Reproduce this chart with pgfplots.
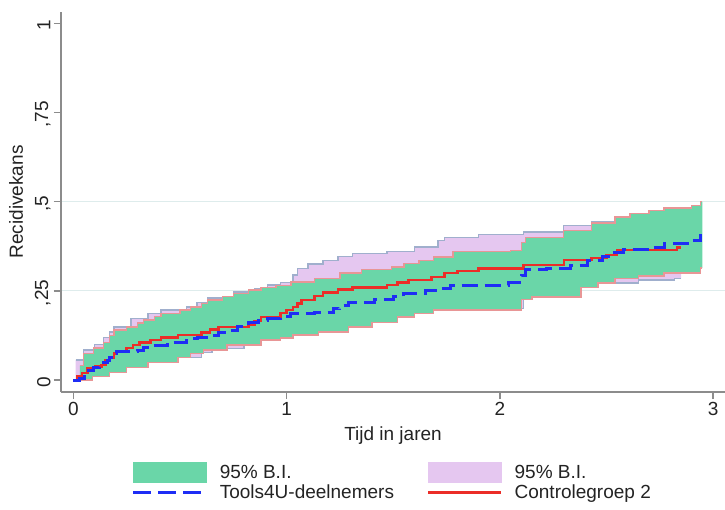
\documentclass[border=0pt]{standalone}
\usepackage{fontspec}
\setmainfont{Liberation Sans}
\usepackage{pgfplots}
\usepackage{pgfplotstable}
\pgfplotsset{compat=1.18}
\usepgfplotslibrary{fillbetween}

\definecolor{greenF}{RGB}{106,214,168}
\definecolor{purpF}{RGB}{229,199,240}
\definecolor{greenE}{RGB}{232,150,150}
\definecolor{purpE}{RGB}{160,175,205}
\definecolor{blueL}{RGB}{30,45,245}
\definecolor{redL}{RGB}{235,45,40}
\definecolor{axisG}{RGB}{140,140,140}
\definecolor{gridC}{RGB}{222,236,236}
\definecolor{txt}{RGB}{35,35,35}
\newcommand{\F}{\fontsize{19}{22}\selectfont}

% Controlegroep 2 (red)
\pgfplotstableread{
x y
0 0
0.02 0.01
0.04 0.02
0.065 0.034
0.10 0.038
0.13 0.042
0.15 0.055
0.17 0.062
0.19 0.075
0.20 0.08
0.25 0.09
0.28 0.098
0.31 0.106
0.36 0.112
0.41 0.12
0.49 0.126
0.60 0.134
0.64 0.142
0.68 0.149
0.82 0.154
0.85 0.165
0.88 0.177
0.97 0.188
1.00 0.196
1.03 0.205
1.05 0.215
1.07 0.224
1.13 0.235
1.17 0.246
1.24 0.254
1.31 0.26
1.47 0.266
1.52 0.273
1.57 0.28
1.68 0.289
1.74 0.30
1.80 0.306
1.90 0.313
2.11 0.322
2.30 0.336
2.43 0.342
2.50 0.35
2.55 0.364
2.83 0.372
2.85 0.372
}\tR

% Tools4U-deelnemers (blue)
\pgfplotstableread{
x y
0 0
0.03 0.005
0.05 0.02
0.056 0.028
0.094 0.034
0.12 0.04
0.14 0.048
0.16 0.055
0.17 0.062
0.19 0.075
0.20 0.08
0.30 0.084
0.33 0.09
0.36 0.098
0.44 0.106
0.53 0.117
0.58 0.12
0.63 0.126
0.68 0.133
0.72 0.14
0.77 0.15
0.82 0.16
0.87 0.166
0.91 0.173
0.97 0.177
1.02 0.187
1.13 0.19
1.22 0.20
1.25 0.21
1.29 0.216
1.41 0.226
1.50 0.233
1.55 0.243
1.65 0.25
1.71 0.257
1.77 0.266
2.04 0.274
2.10 0.294
2.12 0.31
2.22 0.314
2.33 0.322
2.41 0.336
2.48 0.345
2.52 0.358
2.58 0.367
2.72 0.372
2.77 0.383
2.90 0.392
2.94 0.406
2.95 0.406
}\tB

% green band (Tools4U CI) upper
\pgfplotstableread{
x y
0.03 0.04
0.047 0.075
0.094 0.09
0.14 0.106
0.17 0.125
0.19 0.14
0.25 0.149
0.30 0.16
0.33 0.168
0.38 0.178
0.41 0.187
0.50 0.196
0.55 0.205
0.60 0.215
0.63 0.224
0.70 0.235
0.75 0.243
0.82 0.252
0.88 0.26
0.95 0.265
1.02 0.275
1.13 0.285
1.25 0.30
1.35 0.31
1.49 0.317
1.55 0.327
1.62 0.335
1.69 0.345
1.78 0.36
2.05 0.364
2.10 0.385
2.12 0.40
2.30 0.42
2.43 0.44
2.54 0.457
2.61 0.467
2.70 0.475
2.77 0.482
2.90 0.49
2.94 0.50
2.95 0.50
}\tGU

% green band lower
\pgfplotstableread{
x y
0.03 0
0.09 0.01
0.17 0.022
0.25 0.036
0.35 0.05
0.49 0.064
0.55 0.074
0.61 0.084
0.72 0.098
0.88 0.112
0.97 0.118
1.03 0.126
1.15 0.135
1.29 0.149
1.40 0.162
1.52 0.177
1.60 0.186
1.69 0.196
2.10 0.225
2.15 0.233
2.38 0.26
2.46 0.272
2.54 0.285
2.65 0.292
2.77 0.30
2.94 0.314
2.95 0.314
}\tGL

% purple band (Controlegroep CI) upper
\pgfplotstableread{
x y
0.01 0.056
0.047 0.084
0.10 0.10
0.14 0.12
0.17 0.135
0.19 0.149
0.27 0.173
0.35 0.187
0.41 0.196
0.53 0.205
0.58 0.218
0.63 0.23
0.75 0.247
0.85 0.257
0.91 0.266
0.97 0.274
1.03 0.294
1.05 0.313
1.10 0.325
1.17 0.336
1.24 0.347
1.31 0.355
1.47 0.36
1.60 0.373
1.71 0.392
1.74 0.40
1.90 0.408
2.11 0.415
2.30 0.434
2.43 0.445
2.55 0.455
2.83 0.47
2.85 0.47
}\tPU

% purple band lower
\pgfplotstableread{
x y
0.01 0
0.09 0.01
0.17 0.024
0.25 0.038
0.35 0.052
0.49 0.064
0.60 0.078
0.65 0.088
0.80 0.10
0.88 0.112
0.97 0.122
1.03 0.13
1.15 0.14
1.29 0.152
1.40 0.165
1.52 0.18
1.60 0.19
1.69 0.20
2.11 0.235
2.38 0.262
2.46 0.27
2.50 0.272
2.65 0.28
2.82 0.285
2.85 0.285
}\tPL

\begin{document}
\begin{tikzpicture}
\begin{axis}[
  at={(0pt,0pt)}, anchor=south west,
  scale only axis, width=664pt, height=380.3pt,
  xmin=-0.0586, xmax=3.056, ymin=-0.0336, ymax=1.0325,
  set layers,
  axis x line=bottom, axis y line=left,
  axis line style={-, draw=axisG, line width=1.8pt},
  tick align=outside, major tick length=7pt,
  tick style={draw=axisG, line width=1.5pt},
  xtick={0,1,2,3}, xticklabels={0,1,2,3},
  ytick={0,0.25,0.5,0.75,1}, yticklabels={0,{,25},{,5},{,75},1},
  yticklabel style={rotate=90, anchor=south, xshift=-2pt},
  every tick label/.append style={font=\F, text=txt},
  extra y ticks={0.25,0.5}, extra y tick labels={},
  extra y tick style={grid=major, major grid style={draw=gridC, line width=1.2pt}},
  xlabel={Tijd in jaren}, ylabel={Recidivekans},
  label style={font=\F, text=txt},
  xlabel style={at={(axis description cs:0.5,-0.1288)}, anchor=base},
  ylabel style={at={(axis description cs:-0.0678,0.5)}, anchor=center},
  legend columns=2,
  legend cell align=left,
  legend style={at={(0.1063,-0.184)}, anchor=north west, draw=none, fill=none,
    inner sep=0pt, font=\F, text=txt, nodes={inner sep=0pt}, row sep=2pt,
    /tikz/every odd column/.append style={column sep=12pt},
    /tikz/every even column/.append style={column sep=33pt}},
]
\addlegendimage{legend image code/.code={\fill[greenF] (0pt,-10pt) rectangle (73pt,10pt);}}
\addlegendentry{95\% B.I.}
\addlegendimage{legend image code/.code={\fill[purpF] (0pt,-10pt) rectangle (73pt,10pt);}}
\addlegendentry{95\% B.I.}
\addlegendimage{legend image code/.code={\draw[blueL, line width=3pt, dash pattern=on 18pt off 7pt] (0pt,0pt) -- (73pt,0pt);}}
\addlegendentry{Tools4U-deelnemers}
\addlegendimage{legend image code/.code={\draw[redL, line width=2.6pt] (0pt,0pt) -- (73pt,0pt);}}
\addlegendentry{Controlegroep 2}

\addplot[name path=PU, draw=none, const plot, forget plot] table[x=x,y=y] {\tPU};
\addplot[name path=PL, draw=none, const plot, forget plot] table[x=x,y=y] {\tPL};
\addplot[fill=purpF, draw=none, forget plot] fill between[of=PU and PL];
\addplot[on layer=pre main, draw=purpE, line width=1.3pt, const plot, forget plot] table[x=x,y=y] {\tPU};
\addplot[on layer=pre main, draw=purpE, line width=1.3pt, const plot, forget plot] table[x=x,y=y] {\tPL};

\addplot[name path=GU, draw=none, const plot, forget plot] table[x=x,y=y] {\tGU};
\addplot[name path=GL, draw=none, const plot, forget plot] table[x=x,y=y] {\tGL};
\addplot[fill=greenF, draw=none, forget plot] fill between[of=GU and GL];
\addplot[draw=greenE, line width=1.3pt, const plot, forget plot] table[x=x,y=y] {\tGU};
\addplot[draw=greenE, line width=1.3pt, const plot, forget plot] table[x=x,y=y] {\tGL};

\addplot[draw=redL, line width=2.6pt, const plot, forget plot] table[x=x,y=y] {\tR};
\addplot[draw=blueL, line width=3pt, dash pattern=on 16pt off 7pt, const plot, forget plot] table[x=x,y=y] {\tB};
\end{axis}
\pgfresetboundingbox
\useasboundingbox (-61pt,-117pt) rectangle (664pt,392pt);
\end{tikzpicture}
\end{document}
